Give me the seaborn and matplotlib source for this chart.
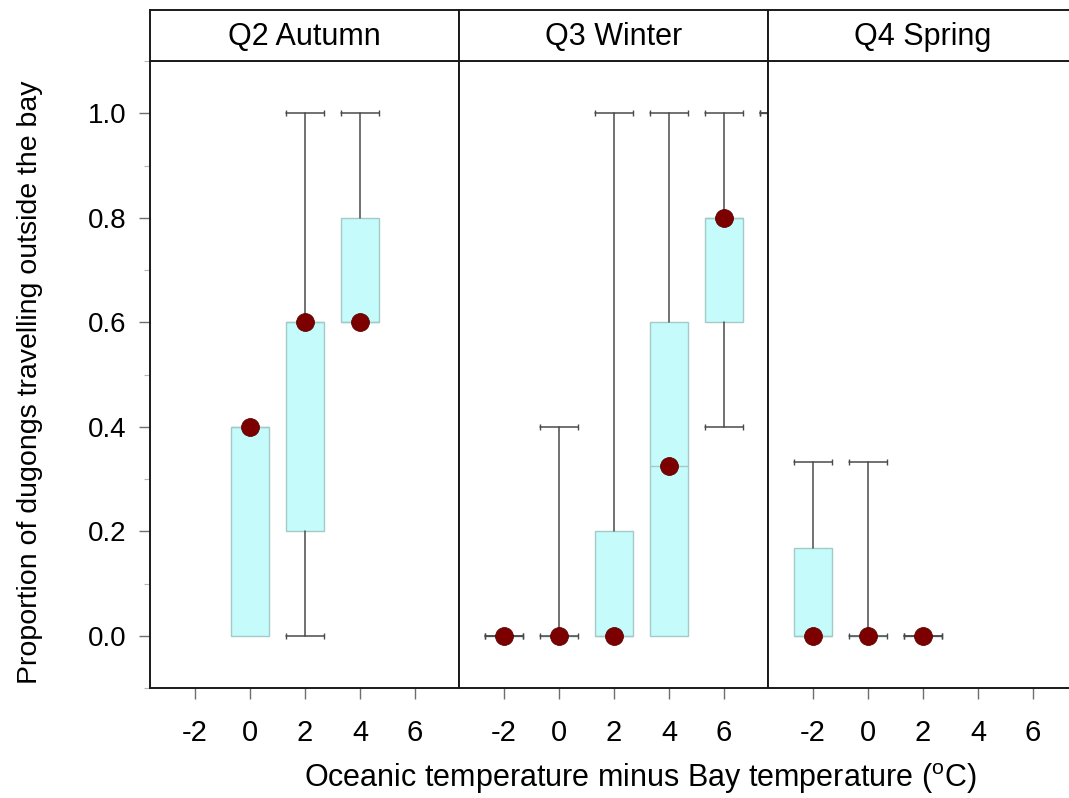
import matplotlib
matplotlib.use("Agg")
import matplotlib.pyplot as plt
from matplotlib.font_manager import fontManager
from matplotlib.ticker import MultipleLocator
import pandas as pd
import seaborn as sns

# ---- data -------------------------------------------------------------
seasons = ["Q2 Autumn", "Q3 Winter", "Q4 Spring"]

box_season = (["Q2 Autumn"] * 3 + ["Q3 Winter"] * 6 + ["Q4 Spring"] * 3)
box_temp = [0, 2, 4, -2, 0, 2, 4, 6, 8, -2, 0, 2]
box_q1 = [0.0, 0.2, 0.6, 0.0, 0.0, 0.0, 0.0, 0.6, 1.0, 0.0, 0.0, 0.0]
box_median = [0.4, 0.6, 0.6, 0.0, 0.0, 0.0, 0.325, 0.8, 1.0, 0.0, 0.0, 0.0]
box_q3 = [0.4, 0.6, 0.8, 0.0, 0.0, 0.2, 0.6, 0.8, 1.0, 0.167, 0.0, 0.0]
whisker_lo = [0.0, 0.0, 0.6, 0.0, 0.0, 0.0, 0.0, 0.4, 1.0, 0.0, 0.0, 0.0]
whisker_hi = [0.4, 1.0, 1.0, 0.0, 0.4, 1.0, 1.0, 1.0, 1.0, 0.333, 0.333, 0.0]

x_ticks = [-2, 0, 2, 4, 6]
y_ticks = [0.0, 0.2, 0.4, 0.6, 0.8, 1.0]

x_title = "Oceanic temperature minus Bay temperature ($^{\\mathrm{o}}$C)"
y_title = "Proportion of dugongs travelling outside the bay"

# ---- styling ----------------------------------------------------------
sns.set_style("white")
plt.rcParams["font.family"] = ["Liberation Sans", "DejaVu Sans"]
installed = {f.name for f in fontManager.ttflist}
narrow = "Liberation Sans Narrow" if "Liberation Sans Narrow" in installed else "Liberation Sans"
plt.rcParams["mathtext.fontset"] = "custom"
plt.rcParams["mathtext.rm"] = narrow
plt.rcParams["text.color"] = "black"
plt.rcParams["axes.labelcolor"] = "black"
plt.rcParams["xtick.labelcolor"] = "black"
plt.rcParams["ytick.labelcolor"] = "black"

BOX_FILL = "#c6fbfb"
BOX_EDGE = "#a3c9c9"
WHISKER = "#4a4a4a"
DOT = "#7d0000"
FRAME = "#1a1a1a"
BOX_W = 1.4

df = pd.DataFrame({
    "season": box_season, "temp": box_temp, "q1": box_q1, "med": box_median,
    "q3": box_q3, "lo": whisker_lo, "hi": whisker_hi,
})

fig = plt.figure(figsize=(10.69, 7.98), dpi=100)
W, H = 1069, 798
panel_w = 309
panel_left = [150, 459, 768]
top_px, bottom_px, strip_top = 61, 688, 10

axes = []
for i, season in enumerate(seasons):
    ax = fig.add_axes([panel_left[i] / W, (H - bottom_px) / H,
                       panel_w / W, (bottom_px - top_px) / H])
    axes.append(ax)
    sub = df[df["season"] == season]

    stats = [dict(q1=r.q1, med=r.med, q3=r.q3, whislo=r.lo, whishi=r.hi,
                  fliers=[]) for r in sub.itertuples()]
    parts = ax.bxp(stats, positions=list(sub["temp"]), widths=BOX_W,
                   capwidths=BOX_W, patch_artist=True, showfliers=False,
                   boxprops=dict(facecolor=BOX_FILL, edgecolor=BOX_EDGE, linewidth=1.0),
                   medianprops=dict(color=BOX_EDGE, linewidth=1.0),
                   whiskerprops=dict(color=WHISKER, linewidth=1.1, zorder=3),
                   capprops=dict(color=WHISKER, linewidth=1.1, marker="|",
                                 markersize=5, markeredgewidth=1.0, zorder=3))
    # hide caps on zero-length whiskers unless the whole box collapses
    for j, r in enumerate(sub.itertuples()):
        flat = r.q1 == r.q3
        if r.lo == r.q1 and not flat:
            parts["caps"][2 * j].set_visible(False)
        if r.hi == r.q3 and not flat:
            parts["caps"][2 * j + 1].set_visible(False)

    sns.scatterplot(data=sub, x="temp", y="med", ax=ax, color=DOT, s=165,
                    edgecolor="#5c0000", linewidth=0.6, zorder=6, legend=False)

    ax.set_xlim(-3.64, 7.6)
    ax.set_ylim(-0.1, 1.1)
    ax.set_xticks(x_ticks)
    ax.set_xticklabels([str(t) for t in x_ticks], fontsize=21, family=narrow)
    ax.tick_params(axis="x", direction="out", length=8, width=1.0,
                   color="#6e6e6e", pad=14, bottom=True)
    ax.set_xlabel("")
    ax.set_ylabel("")
    ax.set_yticks(y_ticks)
    if i == 0:
        ax.set_yticklabels([f"{t:.1f}" for t in y_ticks], fontsize=20)
        ax.yaxis.set_minor_locator(MultipleLocator(0.1))
        ax.tick_params(axis="y", which="major", direction="out", length=8,
                       width=1.0, color="#6e6e6e", pad=9, left=True)
        ax.tick_params(axis="y", which="minor", direction="out", length=4,
                       width=0.8, color="#b5b5b5", left=True)
    else:
        ax.tick_params(axis="y", left=False, labelleft=False)
    for sp in ax.spines.values():
        sp.set_visible(True)
        sp.set_color(FRAME)
        sp.set_linewidth(1.4)

    # panel strip
    sx = fig.add_axes([panel_left[i] / W, (H - top_px) / H,
                       panel_w / W, (top_px - strip_top) / H])
    sx.set_xticks([])
    sx.set_yticks([])
    sx.set_facecolor("white")
    for sp in sx.spines.values():
        sp.set_visible(True)
        sp.set_color(FRAME)
        sp.set_linewidth(1.4)
    sx.text(0.5, 0.48, season, ha="center", va="center", fontsize=22,
            transform=sx.transAxes)

fig.text(30 / W, (H - 382) / H, y_title, rotation=90, ha="center",
         va="center", fontsize=20.5)
fig.text(640 / W, (H - 779) / H, x_title, ha="center", va="center",
         fontsize=22, family=narrow)

fig.savefig("out.png", dpi=100)
